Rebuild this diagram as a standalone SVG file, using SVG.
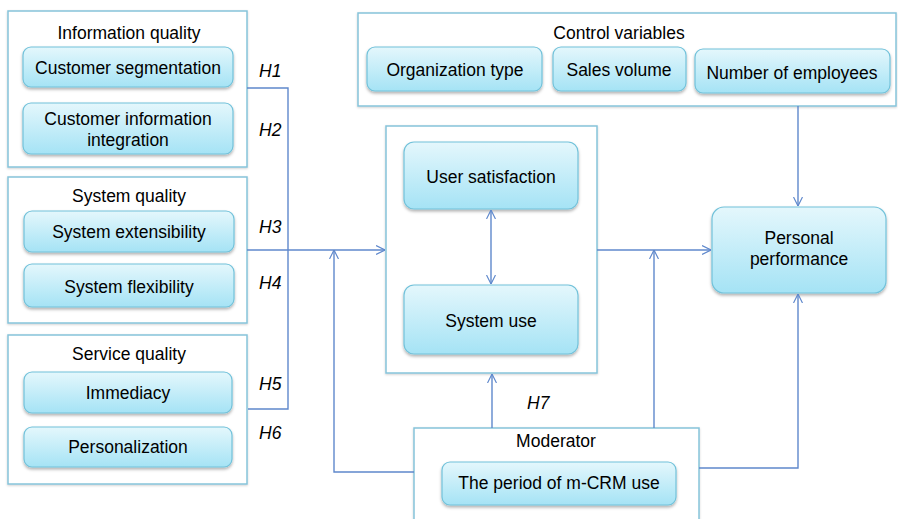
<svg xmlns="http://www.w3.org/2000/svg" width="898" height="519" viewBox="0 0 898 519">
  <defs>
    <linearGradient id="pillFill" x1="0" y1="0" x2="0" y2="1">
      <stop offset="0" stop-color="#e4f7fc"/>
      <stop offset="1" stop-color="#a5e3f5"/>
    </linearGradient>
    <filter id="pillShadow" x="-10%" y="-20%" width="120%" height="150%">
      <feDropShadow dx="0" dy="2" stdDeviation="1.4" flood-color="#000" flood-opacity="0.3"/>
    </filter>
    <filter id="boxShadow" x="-5%" y="-5%" width="110%" height="110%">
      <feDropShadow dx="0" dy="1" stdDeviation="1" flood-color="#000" flood-opacity="0.18"/>
    </filter>
    <marker id="arrow" viewBox="0 0 10 10" refX="10" refY="5" markerWidth="9" markerHeight="10" markerUnits="userSpaceOnUse" orient="auto-start-reverse">
      <path d="M0,0 L10,5 L0,10" fill="none" stroke="#5f88cc" stroke-width="1.3"/>
    </marker>
  </defs>
  <style>
    .box { fill: #ffffff; stroke: #86c4da; stroke-width: 1.5; filter: url(#boxShadow); }
    .pill { fill: url(#pillFill); stroke: #72c2da; stroke-width: 1.2; filter: url(#pillShadow); }
    .t { font-family: "Liberation Sans", Arial, sans-serif; font-size: 17.5px; fill: #000; text-anchor: middle; }
    .h { font-family: "Liberation Sans", Arial, sans-serif; font-size: 17.5px; font-style: italic; fill: #000; }
    .wire { fill: none; stroke: #5f88cc; stroke-width: 1.4; }
  </style>

  <rect width="898" height="519" fill="#ffffff"/>

  <!-- Information quality -->
  <g id="information-quality">
    <rect class="box" x="8" y="11" width="239" height="156"/>
    <text class="t" x="129" y="39">Information quality</text>
    <rect class="pill" x="23" y="47" width="210" height="40" rx="8"/>
    <text class="t" x="128" y="74">Customer segmentation</text>
    <rect class="pill" x="23" y="103" width="210" height="51" rx="8"/>
    <text class="t" x="128" y="125">Customer information</text>
    <text class="t" x="128" y="146">integration</text>
  </g>

  <!-- System quality -->
  <g id="system-quality">
    <rect class="box" x="8" y="177" width="239" height="146"/>
    <text class="t" x="129" y="202">System quality</text>
    <rect class="pill" x="24" y="211" width="210" height="41" rx="8"/>
    <text class="t" x="129" y="238">System extensibility</text>
    <rect class="pill" x="24" y="264" width="210" height="43" rx="8"/>
    <text class="t" x="129" y="293">System flexibility</text>
  </g>

  <!-- Service quality -->
  <g id="service-quality">
    <rect class="box" x="8" y="335" width="239" height="149"/>
    <text class="t" x="129" y="360">Service quality</text>
    <rect class="pill" x="24" y="372" width="208" height="41" rx="8"/>
    <text class="t" x="128" y="399">Immediacy</text>
    <rect class="pill" x="24" y="427" width="208" height="40" rx="8"/>
    <text class="t" x="128" y="453">Personalization</text>
  </g>

  <!-- Control variables -->
  <g id="control-variables">
    <rect class="box" x="358" y="13" width="538" height="93"/>
    <text class="t" x="619" y="39">Control variables</text>
    <rect class="pill" x="367" y="47" width="175" height="44" rx="8"/>
    <text class="t" x="455" y="76">Organization type</text>
    <rect class="pill" x="553" y="47" width="133" height="44" rx="8"/>
    <text class="t" x="619" y="76">Sales volume</text>
    <rect class="pill" x="695" y="49" width="195" height="44" rx="8"/>
    <text class="t" x="792" y="79">Number of employees</text>
  </g>

  <!-- Mediating constructs -->
  <g id="mediators">
    <rect class="box" x="386" y="126" width="211" height="247"/>
    <rect class="pill" x="404" y="142" width="174" height="67" rx="10"/>
    <text class="t" x="491" y="183">User satisfaction</text>
    <rect class="pill" x="404" y="285" width="174" height="69" rx="10"/>
    <text class="t" x="491" y="327">System use</text>
  </g>

  <!-- Outcome -->
  <g id="personal-performance">
    <rect class="pill" x="712" y="207" width="174" height="86" rx="12"/>
    <text class="t" x="799" y="244">Personal</text>
    <text class="t" x="799" y="265">performance</text>
  </g>

  <!-- Moderator -->
  <g id="moderator">
    <rect class="box" x="414" y="428" width="285" height="100"/>
    <text class="t" x="556" y="447">Moderator</text>
    <rect class="pill" x="442" y="462" width="234" height="43" rx="8"/>
    <text class="t" x="559" y="489">The period of m-CRM use</text>
  </g>

  <!-- Hypothesis labels -->
  <g id="hypotheses">
    <text class="h" x="259" y="77">H1</text>
    <text class="h" x="259" y="136">H2</text>
    <text class="h" x="259" y="233">H3</text>
    <text class="h" x="259" y="289">H4</text>
    <text class="h" x="259" y="390">H5</text>
    <text class="h" x="259" y="439">H6</text>
    <text class="h" x="527" y="409">H7</text>
  </g>

  <!-- Connectors -->
  <g id="connectors">
    <polyline class="wire" points="247,88 288,88 288,409 248,409"/>
    <line class="wire" x1="247" y1="250" x2="385" y2="250" marker-end="url(#arrow)"/>
    <polyline class="wire" points="414,472 334,472 334,250" marker-end="url(#arrow)"/>
    <line class="wire" x1="491" y1="210" x2="491" y2="284" marker-start="url(#arrow)" marker-end="url(#arrow)"/>
    <line class="wire" x1="492" y1="428" x2="492" y2="374" marker-end="url(#arrow)"/>
    <line class="wire" x1="597" y1="250" x2="711" y2="250" marker-end="url(#arrow)"/>
    <line class="wire" x1="654" y1="428" x2="654" y2="250" marker-end="url(#arrow)"/>
    <line class="wire" x1="798" y1="106" x2="798" y2="206" marker-end="url(#arrow)"/>
    <polyline class="wire" points="699,468 798,468 798,294" marker-end="url(#arrow)"/>
  </g>
</svg>
